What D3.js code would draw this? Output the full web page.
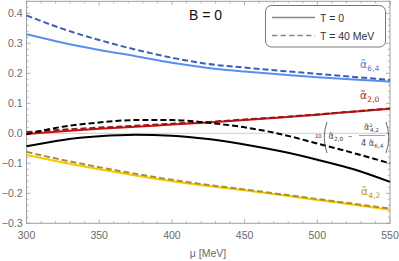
<!DOCTYPE html>
<html>
<head>
<meta charset="utf-8">
<script src="https://cdn.jsdelivr.net/npm/d3@7"></script>
<style>
  html, body { margin: 0; padding: 0; background: #fff; }
  svg { display: block; font-family: "Liberation Sans", Arial, sans-serif; }
</style>
</head>
<body>
<svg id="chart" width="399" height="261"></svg>
<script>
// values
const mu = [300, 325, 350, 375, 400, 425, 450, 475, 500, 525, 550];

const a64T0  = [0.330, 0.302, 0.278, 0.257, 0.235, 0.218, 0.206, 0.196, 0.187, 0.179, 0.172];
const a64T40 = [0.393, 0.348, 0.311, 0.279, 0.252, 0.231, 0.219, 0.208, 0.198, 0.188, 0.178];
const a20T0  = [-0.002, 0.007, 0.015, 0.022, 0.029, 0.036, 0.044, 0.053, 0.062, 0.072, 0.082];
const a20T40 = [0.004, 0.012, 0.019, 0.025, 0.032, 0.038, 0.046, 0.054, 0.063, 0.073, 0.083];
const combT0  = [-0.043, -0.022, -0.010, -0.005, -0.008, -0.019, -0.037, -0.060, -0.088, -0.120, -0.162];
const combT40 = [-0.003, 0.022, 0.036, 0.044, 0.044, 0.035, 0.020, -0.003, -0.034, -0.066, -0.100];
const a42T0  = [-0.072, -0.097, -0.120, -0.141, -0.160, -0.176, -0.190, -0.206, -0.222, -0.238, -0.255];
const a42T40 = [-0.062, -0.089, -0.113, -0.135, -0.155, -0.172, -0.187, -0.203, -0.219, -0.235, -0.251];

const xTicks = [300, 350, 400, 450, 500, 550];
const yTicks = [-0.3, -0.2, -0.1, 0.0, 0.1, 0.2, 0.3, 0.4];

const svg = d3.select("#chart");
const pL = 26.5, pR = 390, pT = 1.3, pB = 223.3;

const x = d3.scaleLinear().domain([300, 550]).range([pL, pR]);
const y = d3.scaleLinear().domain([-0.3, 0.44]).range([pB, pT]);

const frameCol = "#a0a0a0";
const tickTextCol = "#6a6a6a";

// zero line
svg.append("line")
  .attr("x1", pL).attr("x2", pR)
  .attr("y1", y(0)).attr("y2", y(0))
  .attr("stroke", "#cfcfcf").attr("stroke-width", 1);

// frame
svg.append("rect")
  .attr("x", pL).attr("y", pT)
  .attr("width", pR - pL).attr("height", pB - pT)
  .attr("fill", "none").attr("stroke", frameCol).attr("stroke-width", 1);

// ticks (inward, on all four sides)
const g = svg.append("g").attr("stroke", frameCol).attr("stroke-width", 0.8);
d3.range(300, 551, 10).forEach(v => {
  const major = v % 50 === 0, len = major ? 4 : 2;
  g.append("line").attr("x1", x(v)).attr("x2", x(v)).attr("y1", pB).attr("y2", pB - len);
  g.append("line").attr("x1", x(v)).attr("x2", x(v)).attr("y1", pT).attr("y2", pT + len);
});
d3.range(-30, 45, 2).forEach(k => {
  const v = k / 100, major = k % 10 === 0, len = major ? 4 : 2;
  g.append("line").attr("x1", pL).attr("x2", pL + len).attr("y1", y(v)).attr("y2", y(v));
  g.append("line").attr("x1", pR).attr("x2", pR - len).attr("y1", y(v)).attr("y2", y(v));
});

// tick labels
svg.append("g").selectAll("text")
  .data(xTicks).join("text")
  .attr("x", d => x(d)).attr("y", pB + 16)
  .attr("text-anchor", "middle")
  .attr("font-size", 10.5).attr("fill", tickTextCol)
  .text(d => d);

svg.append("g").selectAll("text")
  .data(yTicks).join("text")
  .attr("x", pL - 4).attr("y", d => y(d) + 3.5)
  .attr("text-anchor", "end")
  .attr("font-size", 10.5).attr("fill", tickTextCol)
  .text(d => d3.format(".1f")(d).replace("-", "\u2212"));

// axis label
svg.append("text")
  .attr("x", 208).attr("y", 257)
  .attr("text-anchor", "middle")
  .attr("font-size", 10.5).attr("fill", tickTextCol)
  .text("\u03bc [MeV]");

// curves
const line = d3.line().x((d, i) => x(mu[i])).y(d => y(d)).curve(d3.curveMonotoneX);

const curves = [
  { vals: a64T0,  color: "#5a8ef2", dash: null },
  { vals: a20T0,  color: "#d01010", dash: null },
  { vals: a42T0,  color: "#f7c800", dash: null },
  { vals: combT0, color: "#000000", dash: null },
  { vals: a64T40, color: "#3c5fb4", dash: "6,3" },
  { vals: a20T40, color: "#8e1a1a", dash: "6,3" },
  { vals: a42T40, color: "#a89030", dash: "6,3" },
  { vals: combT40, color: "#000000", dash: "6,3" }
];

svg.append("g").selectAll("path")
  .data(curves).join("path")
  .attr("d", d => line(d.vals))
  .attr("fill", "none")
  .attr("stroke", d => d.color)
  .attr("stroke-width", 2)
  .attr("stroke-dasharray", d => d.dash);

// alpha with combining tilde (DejaVu places the mark properly), sub / sup scripts
function alphaTilde(parent, px, py, s, color, sub, sup, prefix) {
  const t = parent.append("text").attr("x", px).attr("y", py)
    .attr("font-size", s).attr("fill", color)
    .style("font-family", "'DejaVu Sans', sans-serif");
  t.append("tspan").text((prefix || "") + "\u03b1\u0303");
  if (sup) {
    t.append("tspan").attr("font-size", s * 0.6).attr("dx", s * 0.04).attr("dy", -s * 0.35).text(sup);
    t.append("tspan").attr("font-size", s * 0.7).attr("dx", -s * 0.34).attr("dy", s * 0.62).text(sub);
  } else {
    t.append("tspan").attr("font-size", s * 0.72).attr("dx", s * 0.04).attr("dy", s * 0.27).text(sub);
  }
  return t;
}
alphaTilde(svg, 360, 68, 10.5, "#5a78bd", "6,4");
alphaTilde(svg, 360, 99, 10.5, "#b01818", "2,0");
alphaTilde(svg, 361, 195, 10.5, "#b8960e", "4,2");

// formula label for the black curves
const f = svg.append("g");
const fc = "#444";
f.append("text").attr("x", 315).attr("y", 137.5).attr("font-size", 6).attr("fill", fc).text("10");
f.append("path").attr("d", "M327,122 Q321.5,137.5 327,153")
  .attr("fill", "none").attr("stroke", "#555").attr("stroke-width", 0.9);
f.append("path").attr("d", "M386,122 Q391.5,137.5 386,153")
  .attr("fill", "none").attr("stroke", "#555").attr("stroke-width", 0.9);
alphaTilde(f, 328.5, 138.5, 8, fc, "2,0");
f.append("text").attr("x", 348).attr("y", 138.5).attr("font-size", 7.5).attr("fill", fc).text("\u2212");
alphaTilde(f, 364, 130, 8, fc, "4,2", "2");
f.append("line").attr("x1", 359).attr("x2", 385).attr("y1", 135.5).attr("y2", 135.5)
  .attr("stroke", fc).attr("stroke-width", 0.5);
alphaTilde(f, 361, 146, 8, fc, "6,4", null, "4 ");

// title
svg.append("text").attr("x", 189).attr("y", 20)
  .attr("font-size", 14).attr("fill", "#111").text("B = 0");

// legend
const lg = svg.append("g");
lg.append("rect").attr("x", 265.5).attr("y", 5.5).attr("width", 120).attr("height", 41.5)
  .attr("rx", 6).attr("fill", "#fff").attr("stroke", "#555").attr("stroke-width", 0.8);
lg.append("line").attr("x1", 272).attr("x2", 315).attr("y1", 17.5).attr("y2", 17.5)
  .attr("stroke", "#888").attr("stroke-width", 1.6);
lg.append("line").attr("x1", 272).attr("x2", 315).attr("y1", 35.5).attr("y2", 35.5)
  .attr("stroke", "#888").attr("stroke-width", 1.6).attr("stroke-dasharray", "5.5,3");
lg.append("text").attr("x", 320).attr("y", 21.5).attr("font-size", 10.5).attr("fill", "#333").text("T = 0");
lg.append("text").attr("x", 320).attr("y", 39.5).attr("font-size", 10.5).attr("fill", "#333").text("T = 40 MeV");
</script>
</body>
</html>
